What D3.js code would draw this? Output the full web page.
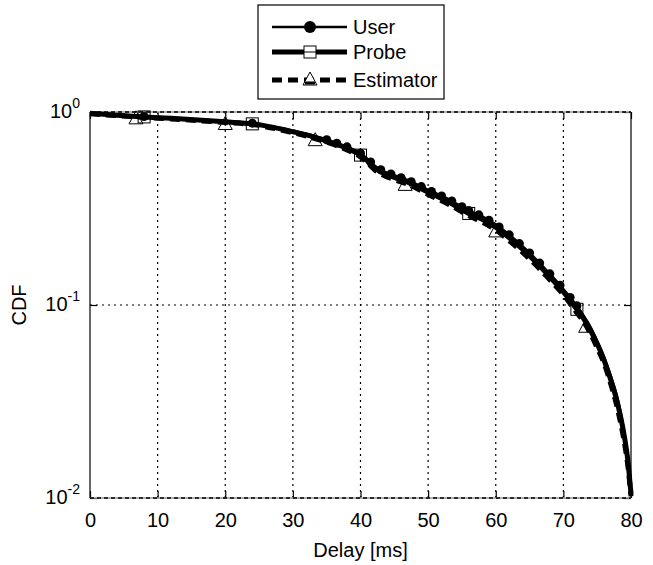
<!DOCTYPE html>
<html><head><meta charset="utf-8">
<script src="https://cdn.jsdelivr.net/npm/d3@7"></script>
<style>body{margin:0;background:#fff}svg{display:block}text{font-family:"Liberation Sans",Arial,sans-serif;fill:#000}</style>
</head><body><svg id="c" width="653" height="565"></svg>
<script>
// Data
const xTicks = [0,10,20,30,40,50,60,70,80];
const yTicks = [1, 0.1, 0.01];
const yTickExp = ["0","-1","-2"];
const seriesNames = ["User","Probe","Estimator"];
const delays   = [0,4,8,12,16,20,24,28,30,33,36,38,40,41,42,43,45,47,50,53,56,58,60,62,64,66,68,70,72,73,74,75,76,77,78,79,79.5,80];
const userCdf  = [0.99,0.968,0.948,0.932,0.914,0.896,0.875,0.828,0.8,0.755,0.7,0.66,0.612,0.572,0.53,0.502,0.47,0.444,0.395,0.354,0.309,0.288,0.262,0.231,0.201,0.172,0.145,0.121,0.099,0.088,0.077,0.065,0.054,0.043,0.033,0.022,0.017,0.0115];
const probeCdf = [0.985,0.963,0.943,0.927,0.909,0.889,0.868,0.82,0.79,0.744,0.69,0.648,0.598,0.56,0.518,0.49,0.458,0.433,0.384,0.343,0.298,0.278,0.253,0.223,0.194,0.166,0.14,0.117,0.095,0.085,0.074,0.063,0.052,0.041,0.031,0.021,0.016,0.0105];
const estCdf   = [0.978,0.958,0.938,0.921,0.902,0.882,0.861,0.811,0.781,0.733,0.679,0.636,0.585,0.546,0.505,0.478,0.446,0.422,0.374,0.333,0.29,0.269,0.245,0.215,0.187,0.16,0.135,0.113,0.091,0.082,0.071,0.06,0.05,0.039,0.029,0.0195,0.015,0.0102];
const userMarkDelay = [8,24,35,36.5,38,40,41.5,43,44.5,46,47.5,49,50.5,52,53.5,55,56,57.5,59,60.5,62,63.5,65,66.5,68,69.5,71,72];
const probeMarkDelay = [8,24,40,56,72];
const estMarkDelay = [6.8,20,33.3,46.6,60,73.3];

const L=90,R=631,T=112,B=498;
const svg=d3.select("#c");
const x=d3.scaleLinear().domain([0,80]).range([L,R]);
const y=d3.scaleLog().domain([0.01,1]).range([B,T]);

// grid
const g=svg.append("g");
xTicks.filter(d=>d>0&&d<80).forEach(d=>{
  g.append("line").attr("x1",x(d)).attr("x2",x(d)).attr("y1",T).attr("y2",B)
   .attr("stroke","#000").attr("stroke-width",1.2).attr("stroke-dasharray","2,4");
});
g.append("line").attr("x1",L).attr("x2",R).attr("y1",y(0.1)).attr("y2",y(0.1))
   .attr("stroke","#000").attr("stroke-width",1.2).attr("stroke-dasharray","2,4");

// axes
const xAxisB=d3.axisBottom(x).tickValues(xTicks).tickSize(-7).tickPadding(15).tickFormat(d3.format("d"));
const xAxisT=d3.axisTop(x).tickValues(xTicks).tickSize(-7).tickFormat("");
const yAxisL=d3.axisLeft(y).tickValues(yTicks).tickSize(-7).tickFormat("");
const yAxisR=d3.axisRight(y).tickValues(yTicks).tickSize(-7).tickFormat("");
function style(sel){sel.select(".domain").remove();sel.selectAll("line").attr("stroke","#000").attr("stroke-width",1.2);sel.selectAll("text").attr("font-size",20).attr("font-family","Liberation Sans, Arial, sans-serif").attr("fill","#000");}
svg.append("g").attr("transform",`translate(0,${B})`).call(xAxisB).call(style);
svg.append("g").attr("transform",`translate(0,${T})`).call(xAxisT).call(style);
svg.append("g").attr("transform",`translate(${L},0)`).call(yAxisL).call(style);
svg.append("g").attr("transform",`translate(${R},0)`).call(yAxisR).call(style);
// box
svg.append("line").attr("x1",L).attr("x2",L).attr("y1",T).attr("y2",B).attr("stroke","#000").attr("stroke-width",1.2);
svg.append("line").attr("x1",R).attr("x2",R).attr("y1",T).attr("y2",B).attr("stroke","#000").attr("stroke-width",1.2);
[T,B].forEach(yy=>{
  svg.append("line").attr("x1",L).attr("x2",R).attr("y1",yy).attr("y2",yy).attr("stroke","#999").attr("stroke-width",1.5);
  svg.append("line").attr("x1",L).attr("x2",R).attr("y1",yy).attr("y2",yy).attr("stroke","#000").attr("stroke-width",1.5).attr("stroke-dasharray","4,3");
});
// y tick labels
yTicks.forEach((v,i)=>{
  const t=svg.append("text").attr("x",L-10).attr("y",y(v)+6).attr("text-anchor","end").attr("font-size",20);
  t.append("tspan").text("10");
  t.append("tspan").attr("dy",-10).attr("font-size",14).text(yTickExp[i]);
});

// lines
const line=d3.line().curve(d3.curveMonotoneX).x(d=>x(d[0])).y(d=>y(d[1]));
const zip=(a,b)=>a.map((d,i)=>[d,b[i]]);
const interp=(ds,vs,d)=>{for(let i=1;i<ds.length;i++){if(d<=ds[i]){const t=(d-ds[i-1])/(ds[i]-ds[i-1]);return Math.exp(Math.log(vs[i-1])+t*(Math.log(vs[i])-Math.log(vs[i-1])));}}return vs[vs.length-1];};
const plot=svg.append("g");
plot.append("path").datum(zip(delays,userCdf)).attr("d",line).attr("fill","none").attr("stroke","#000").attr("stroke-width",2.5);
plot.append("path").datum(zip(delays,probeCdf)).attr("d",line).attr("fill","none").attr("stroke","#000").attr("stroke-width",5);
plot.append("path").datum(zip(delays,estCdf)).attr("d",line).attr("fill","none").attr("stroke","#000").attr("stroke-width",5).attr("stroke-dasharray","10,6");

userMarkDelay.forEach(d=>plot.append("circle").attr("cx",x(d)).attr("cy",y(interp(delays,userCdf,d))).attr("r",4.5).attr("fill","#000"));
probeMarkDelay.forEach(d=>plot.append("rect").attr("x",x(d)-6).attr("y",y(interp(delays,probeCdf,d))-6).attr("width",12).attr("height",12).attr("fill","none").attr("stroke","#000").attr("stroke-width",1));
estMarkDelay.forEach(d=>{const cx=x(d),cy=y(interp(delays,estCdf,d))+2;
  plot.append("path").attr("d",`M${cx},${cy-8}L${cx+7},${cy+5}L${cx-7},${cy+5}Z`).attr("fill","none").attr("stroke","#000").attr("stroke-width",1);});

// axis labels
svg.append("text").attr("x",(L+R)/2).attr("y",557).attr("text-anchor","middle").attr("font-size",20).text("Delay [ms]");
svg.append("text").attr("transform",`translate(26,${(T+B)/2}) rotate(-90)`).attr("text-anchor","middle").attr("font-size",20).text("CDF");

// legend
const lg=svg.append("g");
lg.append("rect").attr("x",258).attr("y",5).attr("width",186).attr("height",94).attr("fill","#fff").attr("stroke","#000").attr("stroke-width",1.2);
const rows=[27,52,80];
const lx1=272,lx2=347,lm=310;
lg.append("line").attr("x1",lx1).attr("x2",lx2).attr("y1",rows[0]).attr("y2",rows[0]).attr("stroke","#000").attr("stroke-width",2.5);
lg.append("circle").attr("cx",lm).attr("cy",rows[0]).attr("r",6).attr("fill","#000");
lg.append("line").attr("x1",lx1).attr("x2",lx2).attr("y1",rows[1]).attr("y2",rows[1]).attr("stroke","#000").attr("stroke-width",5);
lg.append("rect").attr("x",lm-6).attr("y",rows[1]-6).attr("width",12).attr("height",12).attr("fill","#fff").attr("stroke","#000");
lg.append("line").attr("x1",lm-6).attr("x2",lm+6).attr("y1",rows[1]).attr("y2",rows[1]).attr("stroke","#000").attr("stroke-width",1);
lg.append("line").attr("x1",lx1).attr("x2",lx2).attr("y1",rows[2]).attr("y2",rows[2]).attr("stroke","#000").attr("stroke-width",5).attr("stroke-dasharray","10,6");
lg.append("path").attr("d",`M${lm},${rows[2]-8}L${lm+7},${rows[2]+5}L${lm-7},${rows[2]+5}Z`).attr("fill","#fff").attr("stroke","#000");
lg.append("line").attr("x1",lm-5).attr("x2",lm+5).attr("y1",rows[2]+3).attr("y2",rows[2]+3).attr("stroke","#000").attr("stroke-width",3);
seriesNames.forEach((n,i)=>lg.append("text").attr("x",353).attr("y",rows[i]+7).attr("font-size",20).text(n));
</script></body></html>
